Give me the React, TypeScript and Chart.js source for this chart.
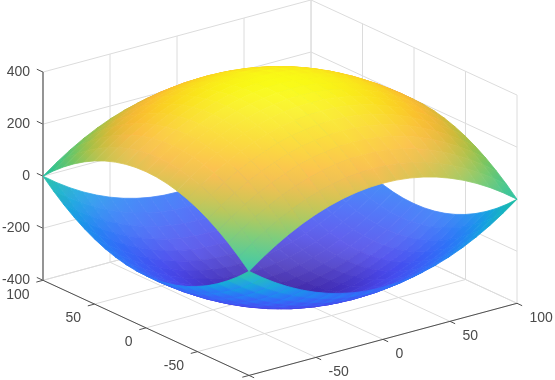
import React, { useEffect, useRef } from "react";
import { Chart, registerables } from "chart.js";

Chart.register(...registerables);

const xValues = [-100,-90,-80,-70,-60,-50,-40,-30,-20,-10,0,10,20,30,40,50,60,70,80,90,100];
const yValues = [-100,-90,-80,-70,-60,-50,-40,-30,-20,-10,0,10,20,30,40,50,60,70,80,90,100];

const domeZ = [
[0,38,72,102,128,150,168,182,192,198,200,198,192,182,168,150,128,102,72,38,0],
[38,76,110,140,166,188,206,220,230,236,238,236,230,220,206,188,166,140,110,76,38],
[72,110,144,174,200,222,240,254,264,270,272,270,264,254,240,222,200,174,144,110,72],
[102,140,174,204,230,252,270,284,294,300,302,300,294,284,270,252,230,204,174,140,102],
[128,166,200,230,256,278,296,310,320,326,328,326,320,310,296,278,256,230,200,166,128],
[150,188,222,252,278,300,318,332,342,348,350,348,342,332,318,300,278,252,222,188,150],
[168,206,240,270,296,318,336,350,360,366,368,366,360,350,336,318,296,270,240,206,168],
[182,220,254,284,310,332,350,364,374,380,382,380,374,364,350,332,310,284,254,220,182],
[192,230,264,294,320,342,360,374,384,390,392,390,384,374,360,342,320,294,264,230,192],
[198,236,270,300,326,348,366,380,390,396,398,396,390,380,366,348,326,300,270,236,198],
[200,238,272,302,328,350,368,382,392,398,400,398,392,382,368,350,328,302,272,238,200],
[198,236,270,300,326,348,366,380,390,396,398,396,390,380,366,348,326,300,270,236,198],
[192,230,264,294,320,342,360,374,384,390,392,390,384,374,360,342,320,294,264,230,192],
[182,220,254,284,310,332,350,364,374,380,382,380,374,364,350,332,310,284,254,220,182],
[168,206,240,270,296,318,336,350,360,366,368,366,360,350,336,318,296,270,240,206,168],
[150,188,222,252,278,300,318,332,342,348,350,348,342,332,318,300,278,252,222,188,150],
[128,166,200,230,256,278,296,310,320,326,328,326,320,310,296,278,256,230,200,166,128],
[102,140,174,204,230,252,270,284,294,300,302,300,294,284,270,252,230,204,174,140,102],
[72,110,144,174,200,222,240,254,264,270,272,270,264,254,240,222,200,174,144,110,72],
[38,76,110,140,166,188,206,220,230,236,238,236,230,220,206,188,166,140,110,76,38],
[0,38,72,102,128,150,168,182,192,198,200,198,192,182,168,150,128,102,72,38,0],
];

const bowlZ = [
[0,-38,-72,-102,-128,-150,-168,-182,-192,-198,-200,-198,-192,-182,-168,-150,-128,-102,-72,-38,0],
[-38,-76,-110,-140,-166,-188,-206,-220,-230,-236,-238,-236,-230,-220,-206,-188,-166,-140,-110,-76,-38],
[-72,-110,-144,-174,-200,-222,-240,-254,-264,-270,-272,-270,-264,-254,-240,-222,-200,-174,-144,-110,-72],
[-102,-140,-174,-204,-230,-252,-270,-284,-294,-300,-302,-300,-294,-284,-270,-252,-230,-204,-174,-140,-102],
[-128,-166,-200,-230,-256,-278,-296,-310,-320,-326,-328,-326,-320,-310,-296,-278,-256,-230,-200,-166,-128],
[-150,-188,-222,-252,-278,-300,-318,-332,-342,-348,-350,-348,-342,-332,-318,-300,-278,-252,-222,-188,-150],
[-168,-206,-240,-270,-296,-318,-336,-350,-360,-366,-368,-366,-360,-350,-336,-318,-296,-270,-240,-206,-168],
[-182,-220,-254,-284,-310,-332,-350,-364,-374,-380,-382,-380,-374,-364,-350,-332,-310,-284,-254,-220,-182],
[-192,-230,-264,-294,-320,-342,-360,-374,-384,-390,-392,-390,-384,-374,-360,-342,-320,-294,-264,-230,-192],
[-198,-236,-270,-300,-326,-348,-366,-380,-390,-396,-398,-396,-390,-380,-366,-348,-326,-300,-270,-236,-198],
[-200,-238,-272,-302,-328,-350,-368,-382,-392,-398,-400,-398,-392,-382,-368,-350,-328,-302,-272,-238,-200],
[-198,-236,-270,-300,-326,-348,-366,-380,-390,-396,-398,-396,-390,-380,-366,-348,-326,-300,-270,-236,-198],
[-192,-230,-264,-294,-320,-342,-360,-374,-384,-390,-392,-390,-384,-374,-360,-342,-320,-294,-264,-230,-192],
[-182,-220,-254,-284,-310,-332,-350,-364,-374,-380,-382,-380,-374,-364,-350,-332,-310,-284,-254,-220,-182],
[-168,-206,-240,-270,-296,-318,-336,-350,-360,-366,-368,-366,-360,-350,-336,-318,-296,-270,-240,-206,-168],
[-150,-188,-222,-252,-278,-300,-318,-332,-342,-348,-350,-348,-342,-332,-318,-300,-278,-252,-222,-188,-150],
[-128,-166,-200,-230,-256,-278,-296,-310,-320,-326,-328,-326,-320,-310,-296,-278,-256,-230,-200,-166,-128],
[-102,-140,-174,-204,-230,-252,-270,-284,-294,-300,-302,-300,-294,-284,-270,-252,-230,-204,-174,-140,-102],
[-72,-110,-144,-174,-200,-222,-240,-254,-264,-270,-272,-270,-264,-254,-240,-222,-200,-174,-144,-110,-72],
[-38,-76,-110,-140,-166,-188,-206,-220,-230,-236,-238,-236,-230,-220,-206,-188,-166,-140,-110,-76,-38],
[0,-38,-72,-102,-128,-150,-168,-182,-192,-198,-200,-198,-192,-182,-168,-150,-128,-102,-72,-38,0],
];

const zTicks = [-400, -200, 0, 200, 400];
const xTicks = [-100, -50, 0, 50, 100];
const yTicks = [-100, -50, 0, 50, 100];
const xLabels = [-50, 0, 50, 100];
const yLabels = [-50, 0, 50, 100];

const parula = [
  [62, 38, 168], [72, 70, 235], [55, 100, 248], [35, 130, 245], [15, 170, 220], [30, 190, 160],
  [90, 200, 110], [185, 190, 58], [250, 180, 55], [250, 215, 30], [249, 251, 21],
];

const zMin = -400, zMax = 400, xMin = -100, xMax = 100, yMin = -100, yMax = 100;

// Orthographic view of the MATLAB axes box onto the chart's two linear scales.
const project = (x: number, y: number, z: number) => ({
  x: 1.34 * x - 1.03 * y,
  y: z + 1.385 * (x + 100) + 1.827 * (y - 100),
});
const depth = (x: number, y: number, z: number) => -107.12 * x - 139.36 * y + 25.18 * z;

const rgbOf = (z: number) => {
  const t = Math.min(0.9999, Math.max(0, (z - zMin) / (zMax - zMin))) * (parula.length - 1);
  const i = Math.floor(t), f = t - i;
  return parula[i].map((v, k) => v + (parula[i + 1][k] - v) * f);
};
const colorOf = (z: number, white: number) => {
  const c = rgbOf(z).map((v) => Math.round(v + (255 - v) * white));
  return `rgb(${c[0]},${c[1]},${c[2]})`;
};

function surfaceCells(table: number[][]) {
  const cells: { d: number; dataset: any }[] = [];
  for (let j = 0; j < yValues.length - 1; j++) {
    for (let i = 0; i < xValues.length - 1; i++) {
      const corners: [number, number, number][] = [
        [xValues[i], yValues[j], table[j][i]],
        [xValues[i + 1], yValues[j], table[j][i + 1]],
        [xValues[i + 1], yValues[j + 1], table[j + 1][i + 1]],
        [xValues[i], yValues[j + 1], table[j + 1][i]],
      ];
      const midZ = corners.reduce((s, c) => s + c[2], 0) / 4;
      const midX = corners.reduce((s, c) => s + c[0], 0) / 4;
      const midY = corners.reduce((s, c) => s + c[1], 0) / 4;
      const pts = corners.map((c) => project(c[0], c[1], c[2]));
      let area = 0;
      pts.forEach((p, k) => {
        const q = pts[(k + 1) % 4];
        area += p.x * q.y * 0.26 - q.x * p.y * 0.26;
      });
      area = Math.abs(area) / 2;
      // the reference's dense mesh lets white show through where cells face the viewer
      const white = Math.min(1, Math.max(0, (area - 95) / 70)) * 0.14;
      const low = corners.reduce((a, c) => (c[2] < a[2] ? c : a));
      const high = corners.reduce((a, c) => (c[2] > a[2] ? c : a));
      const paint = (ctx: any) => {
        const { x: sx, y: sy } = ctx.chart.scales;
        const flat = colorOf(midZ, white);
        if (!sx || !sy) return flat;
        const a = project(low[0], low[1], low[2]);
        const b = project(high[0], high[1], high[2]);
        const c = [sx.getPixelForValue(a.x), sy.getPixelForValue(a.y), sx.getPixelForValue(b.x), sy.getPixelForValue(b.y)];
        if (!c.every(Number.isFinite)) return flat;
        const g = ctx.chart.ctx.createLinearGradient(c[0], c[1], c[2], c[3]);
        g.addColorStop(0, colorOf(low[2], white));
        g.addColorStop(1, colorOf(high[2], white));
        return g;
      };
      cells.push({
        d: depth(midX, midY, midZ),
        dataset: {
          data: [...pts, pts[0]],
          showLine: true,
          fill: "shape",
          backgroundColor: paint,
          borderColor: paint,
          borderWidth: 0.8,
          pointRadius: 0,
          tension: 0,
        },
      });
    }
  }
  return cells;
}

const polyline = (pts: [number, number, number][], color: string, width: number) => ({
  data: pts.map((p) => project(p[0], p[1], p[2])),
  showLine: true,
  fill: false,
  borderColor: color,
  borderWidth: width,
  pointRadius: 0,
  clip: false,
});

function boxDatasets() {
  const grid = "#dcdcdc";
  const out: any[] = [];
  for (const x of xTicks) {
    if (x > xMin) out.push(polyline([[x, yMax, zMin], [x, yMax, zMax]], grid, 1));
    out.push(polyline([[x, yMin, zMin], [x, yMax, zMin]], grid, 1));
  }
  for (const y of yTicks) {
    out.push(polyline([[xMax, y, zMin], [xMax, y, zMax]], grid, 1));
    out.push(polyline([[xMin, y, zMin], [xMax, y, zMin]], grid, 1));
  }
  for (const z of zTicks) {
    out.push(polyline([[xMin, yMax, z], [xMax, yMax, z]], grid, 1));
    out.push(polyline([[xMax, yMin, z], [xMax, yMax, z]], grid, 1));
  }
  const dark = "#505050";
  const axes: any[] = [
    polyline([[xMin, yMax, zMin], [xMin, yMax, zMax]], "#7a7a7a", 1.6),
    polyline([[xMin, yMax, zMin], [xMin, yMin, zMin]], dark, 1),
    polyline([[xMin, yMin, zMin], [xMax, yMin, zMin]], dark, 1),
  ];
  for (const z of zTicks) axes.push(polyline([[xMin, yMax, z], [xMin, yMax + 6, z]], dark, 1));
  for (const y of yTicks) axes.push(polyline([[xMin, y, zMin], [xMin - 5, y, zMin]], dark, 1));
  for (const x of xTicks) axes.push(polyline([[x, yMin, zMin], [x, yMin - 5, zMin]], dark, 1));
  return { axes, grid: out };
}

const textColor = "#4a4a4a";
const tickFont = "14px 'Liberation Sans', Arial, sans-serif";

const floorLabels = {
  id: "floorLabels",
  afterDraw(chart: any) {
    const { ctx, scales } = chart;
    ctx.save();
    ctx.font = tickFont;
    ctx.fillStyle = textColor;
    ctx.textBaseline = "middle";
    ctx.textAlign = "right";
    for (const y of yLabels) {
      const p = project(xMin, y, zMin);
      ctx.fillText(String(y), scales.x.getPixelForValue(p.x) - 13.5, scales.y.getPixelForValue(p.y) + 14.5);
    }
    ctx.textAlign = "left";
    for (const x of xLabels) {
      const p = project(x, yMin, zMin);
      ctx.fillText(String(x), scales.x.getPixelForValue(p.x) + 12.5, scales.y.getPixelForValue(p.y) + 15);
    }
    ctx.restore();
  },
};

export default function App() {
  const ref = useRef<HTMLCanvasElement>(null);
  useEffect(() => {
    const cells = [...surfaceCells(domeZ), ...surfaceCells(bowlZ)];
    cells.sort((a, b) => b.d - a.d); // nearest first: Chart.js paints the first dataset last
    const { axes, grid } = boxDatasets();
    const chart = new Chart(ref.current as HTMLCanvasElement, {
      type: "scatter",
      data: { datasets: [...cells.map((c) => c.dataset), ...axes, ...grid] },
      options: {
        animation: false,
        responsive: false,
        layout: { padding: 0, autoPadding: false },
        plugins: { legend: { display: false }, tooltip: { enabled: false } },
        events: [],
        scales: {
          x: { type: "linear", display: false, min: -244, max: 275 },
          y: {
            type: "linear",
            min: -727.7,
            max: 621.5,
            border: { display: false },
            grid: { display: false, drawTicks: false },
            afterFit: (s: any) => { s.width = 36; },
            afterBuildTicks: (s: any) => { s.ticks = zTicks.map((value) => ({ value })); },
            ticks: {
              padding: 6,
              color: textColor,
              font: { family: "'Liberation Sans', Arial, sans-serif", size: 14 },
              callback: (v: any) => String(v),
            },
          },
        },
      } as any,
      plugins: [floorLabels],
    });
    return () => chart.destroy();
  }, []);
  return (
    <div style={{ position: "fixed", left: 0, top: 0, width: 555, height: 380, background: "#fff" }}>
      <canvas ref={ref} width={555} height={380} style={{ display: "block" }} />
    </div>
  );
}
